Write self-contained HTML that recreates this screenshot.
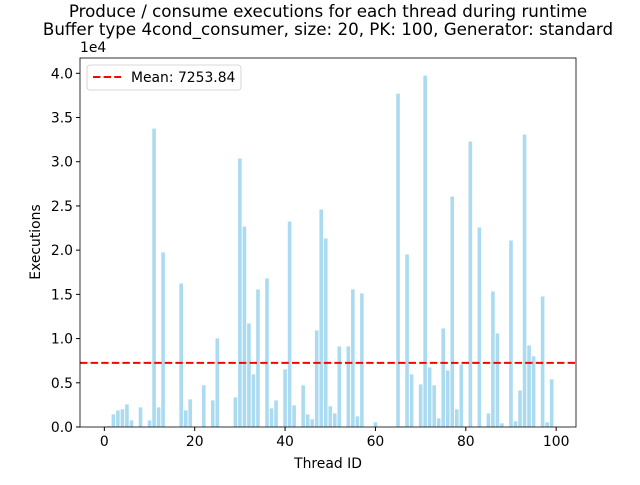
<!DOCTYPE html>
<html><head><meta charset="utf-8"><style>
body{margin:0;background:#fff}
svg{font-family:"DejaVu Sans","Liberation Sans",sans-serif}
</style></head><body>
<svg id="chart" width="640" height="480" xmlns="http://www.w3.org/2000/svg">
<text x="328" y="17" font-size="16.7" text-anchor="middle">Produce / consume executions for each thread during runtime</text>
<text x="328" y="35" font-size="16.7" text-anchor="middle">Buffer type 4cond_consumer, size: 20, PK: 100, Generator: standard</text>
<g id="bars"></g>
<line id="meanline" x1="80" x2="576" stroke="#ff0000" stroke-width="2" stroke-dasharray="7.4,3.2"/>
<rect x="80" y="58" width="496" height="369" fill="none" stroke="#000" stroke-width="0.8"/>
<g id="xticks"></g>
<g id="yticks"></g>
<text x="80" y="52" font-size="13.9">1e4</text>
<text x="328" y="468" font-size="13.9" text-anchor="middle">Thread ID</text>
<text transform="translate(40,242) rotate(-90)" font-size="13.9" text-anchor="middle">Executions</text>
<g>
<rect x="87" y="65" width="154" height="25" rx="3" fill="#fff" stroke="#ccc" stroke-width="0.8"/>
<line x1="93" x2="121" y1="77" y2="77" stroke="#ff0000" stroke-width="2" stroke-dasharray="7.4,3.2"/>
<text x="131" y="82" font-size="13.9">Mean: 7253.84</text>
</g>
</svg>
<script>
const threadIds = Array.from({length:100},(_, i)=>i);
const executions = [
0,100,1430,1880,2000,2560,750,0,2220,0,
750,33750,2220,19740,0,0,0,16230,1880,3130,
0,0,4710,0,3010,10020,0,0,0,3350,
30360,22670,11710,5950,15560,0,16800,2110,3010,75,
6520,23240,2450,0,4710,1430,870,10920,24600,21320,
2340,1540,9110,0,9110,15560,1200,15100,0,0,
530,0,0,0,0,37700,75,19510,5950,0,
4820,39740,6740,4710,980,11150,6400,26060,2000,7080,
0,32280,0,22560,0,1540,15330,10580,410,0,
21090,640,4140,33070,9230,7990,0,14760,530,5390];
const meanValue = 7253.84;
const yTicks = [0,0.5,1.0,1.5,2.0,2.5,3.0,3.5,4.0];
const xTicks = [0,20,40,60,80,100];

const X0=80,X1=576,Y0=427,Y1=58;
const xmin=-5.39,xmax=104.39,ymin=0,ymax=41730;
const xs=v=>X0+(v-xmin)/(xmax-xmin)*(X1-X0);
const ys=v=>Y0-(v-ymin)/(ymax-ymin)*(Y0-Y1);
const NS="http://www.w3.org/2000/svg";
const bars=document.getElementById('bars');
threadIds.forEach((t,i)=>{
  const v=executions[i];
  const r=document.createElementNS(NS,'rect');
  
  
  const x=xs(t-0.4), w=xs(t+0.4)-x;
  r.setAttribute('x',x);r.setAttribute('width',w);
  r.setAttribute('y',ys(v));r.setAttribute('height',Y0-ys(v));
  r.setAttribute('fill','#abdbf0');
  bars.appendChild(r);
});
const ml=document.getElementById('meanline');
ml.setAttribute('y1',ys(meanValue));ml.setAttribute('y2',ys(meanValue));
const xg=document.getElementById('xticks');
xTicks.forEach(t=>{
  const l=document.createElementNS(NS,'line');
  
  
  l.setAttribute('x1',xs(t));l.setAttribute('x2',xs(t));
  l.setAttribute('y1',Y0);l.setAttribute('y2',Y0+4);l.setAttribute('stroke','#000');
  xg.appendChild(l);
  const tx=document.createElementNS(NS,'text');
  
  
  tx.setAttribute('x',xs(t));tx.setAttribute('y',Y0+19);
  tx.setAttribute('font-size','13.9');tx.setAttribute('text-anchor','middle');
  tx.textContent=t;xg.appendChild(tx);
});
const yg=document.getElementById('yticks');
yTicks.forEach(t=>{
  const y=ys(t*1e4);
  const l=document.createElementNS(NS,'line');
  
  
  l.setAttribute('x1',X0-4);l.setAttribute('x2',X0);
  l.setAttribute('y1',y);l.setAttribute('y2',y);l.setAttribute('stroke','#000');
  yg.appendChild(l);
  const tx=document.createElementNS(NS,'text');
  
  
  tx.setAttribute('x',X0-7);tx.setAttribute('y',y+5);
  tx.setAttribute('font-size','13.9');tx.setAttribute('text-anchor','end');
  tx.textContent=t.toFixed(1);yg.appendChild(tx);
});
</script>
</body></html>
